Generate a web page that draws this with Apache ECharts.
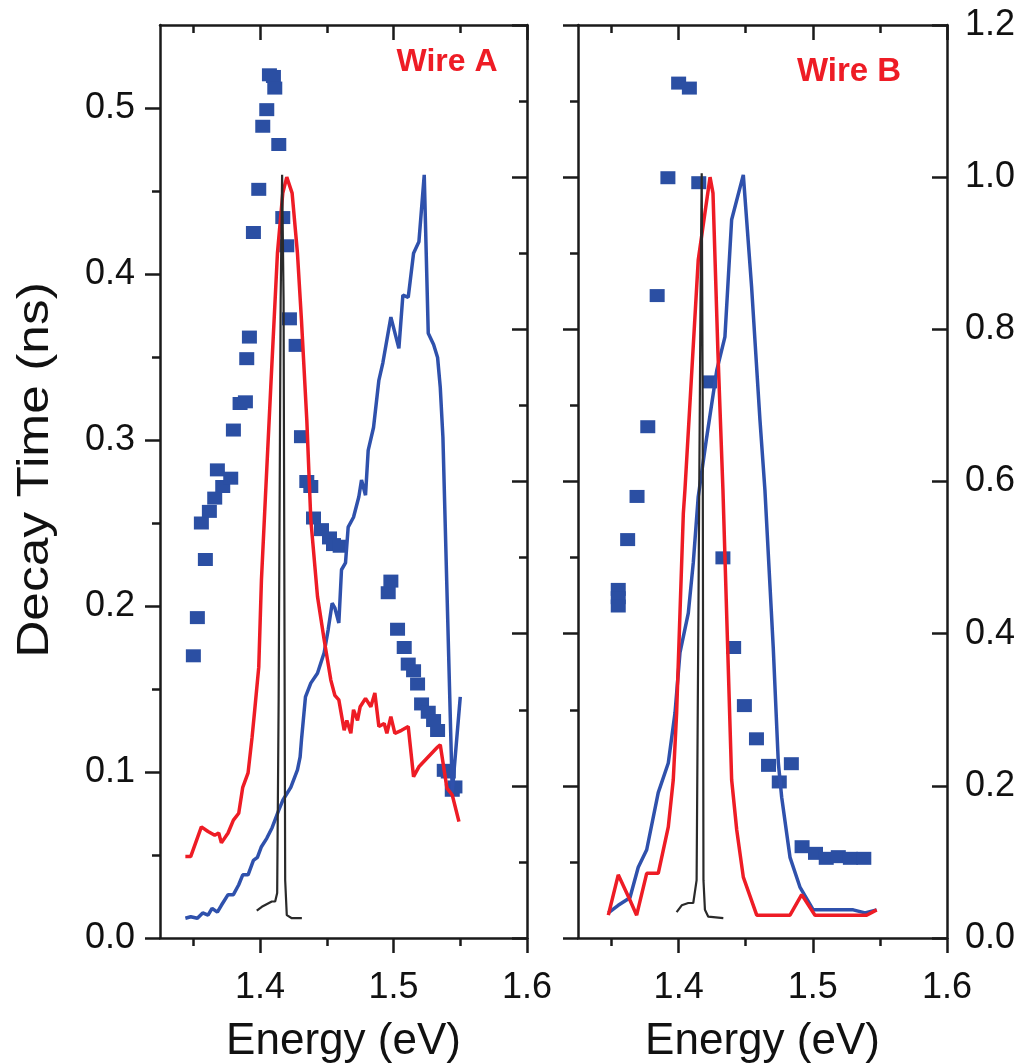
<!DOCTYPE html>
<html>
<head>
<meta charset="utf-8">
<script src="https://cdn.jsdelivr.net/npm/echarts@6/dist/echarts.min.js"></script>
<style>html,body{margin:0;padding:0;background:#fff;}#c{width:1019px;height:1063px;}</style>
</head>
<body>
<div id="c"></div>
<script>
// ---- axis ranges and ticks ----
const xRange = [1.325, 1.6];
const xMajorTicks = [1.4, 1.5, 1.6];
const xMinorTicks = [1.35, 1.45, 1.55];
const decayRange = [0, 0.55];
const decayTicks = [0, 0.1, 0.2, 0.3, 0.4, 0.5];
const decayMinorTicks = [0.05, 0.15, 0.25, 0.35, 0.45];
const intensityRange = [0, 1.2];
const intensityTicks = [0, 0.2, 0.4, 0.6, 0.8, 1.0, 1.2];
const intensityMinorTicks = [0.1, 0.3, 0.5, 0.7, 0.9, 1.1];

// ---- Wire A: decay times (ns) ----
const wireADecay = [
[1.350,0.170],[1.353,0.193],[1.356,0.250],[1.359,0.228],[1.362,0.257],[1.366,0.265],[1.368,0.282],
[1.372,0.272],[1.378,0.277],[1.380,0.306],[1.385,0.322],[1.389,0.323],[1.390,0.349],[1.392,0.362],
[1.395,0.425],[1.399,0.451],[1.402,0.489],[1.405,0.499],[1.407,0.520],[1.410,0.519],[1.411,0.512],
[1.414,0.478],[1.417,0.434],[1.420,0.417],[1.422,0.373],[1.427,0.357],[1.431,0.302],[1.435,0.275],
[1.438,0.272],[1.440,0.253],[1.446,0.246],[1.452,0.241],[1.455,0.237],[1.460,0.236],
[1.496,0.208],[1.498,0.215],[1.503,0.186],[1.508,0.175],[1.511,0.165],[1.515,0.161],[1.518,0.153],
[1.521,0.141],[1.526,0.136],[1.530,0.131],[1.533,0.125],[1.538,0.101],[1.541,0.100],[1.544,0.089],[1.546,0.091]
];
// ---- Wire A: normalized spectra ----
const wireARed = [
[1.344,0.107],[1.348,0.107],[1.356,0.146],[1.361,0.140],[1.366,0.135],[1.369,0.138],[1.371,0.125],
[1.376,0.138],[1.380,0.155],[1.384,0.164],[1.387,0.198],[1.391,0.217],[1.394,0.264],[1.396,0.300],
[1.399,0.356],[1.401,0.470],[1.404,0.580],[1.408,0.724],[1.413,0.900],[1.417,0.979],[1.420,1.000],
[1.424,0.979],[1.428,0.900],[1.431,0.812],[1.435,0.681],[1.438,0.550],[1.443,0.449],[1.448,0.392],
[1.453,0.339],[1.456,0.319],[1.459,0.313],[1.463,0.273],[1.465,0.286],[1.468,0.269],[1.470,0.300],
[1.473,0.286],[1.475,0.304],[1.479,0.315],[1.483,0.304],[1.486,0.322],[1.489,0.278],[1.493,0.282],
[1.495,0.269],[1.498,0.291],[1.501,0.269],[1.506,0.273],[1.511,0.278],[1.515,0.212],[1.519,0.225],
[1.533,0.251],[1.535,0.254],[1.540,0.197],[1.544,0.188],[1.549,0.153]
];
const wireABlue = [
[1.344,0.026],[1.348,0.028],[1.353,0.026],[1.357,0.033],[1.361,0.030],[1.364,0.039],[1.368,0.034],
[1.371,0.043],[1.376,0.057],[1.380,0.057],[1.384,0.070],[1.387,0.083],[1.391,0.083],[1.395,0.102],
[1.398,0.106],[1.401,0.120],[1.405,0.131],[1.409,0.145],[1.414,0.168],[1.417,0.181],[1.423,0.198],
[1.428,0.221],[1.430,0.238],[1.431,0.260],[1.434,0.317],[1.438,0.335],[1.443,0.348],[1.448,0.375],
[1.451,0.405],[1.454,0.440],[1.456,0.434],[1.459,0.414],[1.461,0.484],[1.464,0.493],[1.466,0.540],
[1.470,0.553],[1.474,0.580],[1.476,0.602],[1.479,0.582],[1.481,0.641],[1.485,0.671],[1.489,0.733],
[1.492,0.756],[1.498,0.816],[1.504,0.775],[1.507,0.845],[1.511,0.842],[1.515,0.900],[1.519,0.915],
[1.523,1.003],[1.526,0.795],[1.530,0.780],[1.533,0.763],[1.535,0.724],[1.537,0.658],[1.544,0.192],[1.550,0.317]
];
const wireABlack = [
[1.3975,0.036],[1.4013,0.041],[1.4088,0.048],[1.4113,0.048],[1.4128,0.059],[1.4139,0.313],[1.4154,0.838],
[1.4165,1.003],[1.4176,0.838],[1.4188,0.076],[1.4200,0.030],[1.4238,0.026],[1.4313,0.026]
];

// ---- Wire B: decay times (ns) ----
const wireBDecay = [
[1.355,0.210],[1.355,0.205],[1.355,0.200],[1.362,0.240],[1.369,0.266],[1.377,0.308],[1.384,0.387],
[1.392,0.458],[1.400,0.515],[1.408,0.512],[1.415,0.455],[1.423,0.335],[1.433,0.229],[1.441,0.175],
[1.449,0.140],[1.458,0.120],[1.467,0.104],[1.475,0.094],[1.484,0.105],[1.492,0.055],[1.502,0.051],
[1.510,0.048],[1.519,0.049],[1.528,0.048],[1.538,0.048]
];
// ---- Wire B: normalized spectra ----
const wireBRed = [
[1.3476,0.030],[1.3550,0.083],[1.3637,0.050],[1.3687,0.030],[1.3762,0.085],[1.3848,0.085],[1.3923,0.146],
[1.3960,0.208],[1.3985,0.296],[1.4010,0.427],[1.4035,0.558],[1.4047,0.589],[1.4146,0.891],[1.4234,1.000],
[1.4256,0.979],[1.4293,0.769],[1.4330,0.590],[1.4395,0.208],[1.4433,0.142],[1.4482,0.080],[1.4582,0.030],
[1.4830,0.030],[1.4917,0.057],[1.5016,0.030],[1.5401,0.030],[1.5476,0.037]
];
const wireBBlue = [
[1.3476,0.033],[1.3550,0.043],[1.3637,0.053],[1.3699,0.093],[1.3762,0.116],[1.3848,0.191],[1.3923,0.230],
[1.3973,0.296],[1.4010,0.375],[1.4072,0.427],[1.4109,0.493],[1.4146,0.580],[1.4209,0.658],[1.4284,0.746],
[1.4345,0.790],[1.4395,0.944],[1.4482,1.003],[1.4544,0.855],[1.4606,0.681],[1.4643,0.589],[1.4705,0.382],
[1.4743,0.230],[1.4768,0.185],[1.4830,0.106],[1.4904,0.067],[1.5003,0.037],[1.5301,0.037],[1.5389,0.033],[1.5476,0.037]
];
const wireBBlack = [
[1.3985,0.034],[1.4023,0.043],[1.4072,0.046],[1.4109,0.046],[1.4134,0.076],[1.4148,0.444],[1.4163,0.838],
[1.4172,1.005],[1.4179,0.707],[1.4185,0.076],[1.4196,0.037],[1.4221,0.028],[1.4333,0.026]
];

const panelLabels = ['Wire A', 'Wire B'];
const xTitle = 'Energy (eV)';
const yTitle = 'Decay Time (ns)';

// ---- styling ----
const FONT = 'Liberation Sans, Arial, Helvetica, sans-serif';
const AX = '#1a1a1a';
const RED = '#ee1c25';
const BLUE = '#2f51ac';
const SQ = '#2b4fa3';
const MAJ = 15, MIN = 8, LW = 2.5;

function fmt(v) { return Number(v).toFixed(1); }

function valAxis(o) {
  const a = {
    type: 'value', gridIndex: o.grid, position: o.pos, min: o.range[0], max: o.range[1],
    splitLine: { show: false },
    axisLine: { show: !!o.line, onZero: false, lineStyle: { color: AX, width: LW } },
    axisTick: { show: true, inside: !!o.inside, length: o.len, customValues: o.ticks,
                lineStyle: { color: AX, width: LW } },
    axisLabel: { show: !!o.labels, customValues: o.ticks, formatter: fmt, margin: o.margin || 10,
                 fontSize: 36, fontFamily: FONT, color: '#111' },
    z: 5
  };
  if (o.name) {
    a.name = o.name; a.nameLocation = 'middle'; a.nameGap = o.nameGap;
    a.nameTextStyle = { fontSize: 44, fontFamily: FONT, color: '#111' };
  }
  if (o.hidden) a.show = false;
  return a;
}

const xAxes = [];
const yAxes = [];
[0, 1].forEach(function (g) {
  xAxes.push(valAxis({ grid: g, pos: 'bottom', range: xRange, line: true, ticks: xMajorTicks, len: MAJ, labels: true, margin: 32, name: xTitle, nameGap: 82 }));
  xAxes.push(valAxis({ grid: g, pos: 'bottom', range: xRange, ticks: xMinorTicks, len: MIN }));
  xAxes.push(valAxis({ grid: g, pos: 'top', range: xRange, line: true, ticks: xMajorTicks, len: MAJ, inside: true }));
  xAxes.push(valAxis({ grid: g, pos: 'top', range: xRange, ticks: xMinorTicks, len: MIN, inside: true }));
});
// grid 0 y axes
yAxes.push(valAxis({ grid: 0, pos: 'left', range: decayRange, line: true, ticks: decayTicks, len: MAJ, labels: true, margin: 25 })); // 0
yAxes.push(valAxis({ grid: 0, pos: 'left', range: decayRange, ticks: decayMinorTicks, len: MIN })); // 1
yAxes.push(valAxis({ grid: 0, pos: 'right', range: intensityRange, line: true, ticks: intensityTicks, len: MAJ, inside: true })); // 2
yAxes.push(valAxis({ grid: 0, pos: 'right', range: intensityRange, ticks: intensityMinorTicks, len: MIN, inside: true })); // 3
// grid 1 y axes
yAxes.push(valAxis({ grid: 1, pos: 'left', range: intensityRange, line: true, ticks: intensityTicks, len: MAJ })); // 4
yAxes.push(valAxis({ grid: 1, pos: 'left', range: intensityRange, ticks: intensityMinorTicks, len: MIN })); // 5
yAxes.push(valAxis({ grid: 1, pos: 'right', range: intensityRange, line: true, ticks: intensityTicks, len: MAJ, inside: true, labels: true, margin: 18 })); // 6
yAxes.push(valAxis({ grid: 1, pos: 'right', range: decayRange, ticks: decayTicks, len: MAJ, hidden: true })); // 7

function scatter(data, xi, yi) {
  return { type: 'scatter', data: data, xAxisIndex: xi, yAxisIndex: yi, symbol: 'rect', symbolSize: [15, 13],
           itemStyle: { color: SQ, opacity: 1 }, z: 2, silent: true };
}
function line(data, xi, yi, color, w, z) {
  return { type: 'line', data: data, xAxisIndex: xi, yAxisIndex: yi, showSymbol: false, symbol: 'none',
           lineStyle: { color: color, width: w, opacity: 1 }, z: z, silent: true };
}

const option = {
  animation: false,
  backgroundColor: '#fff',
  grid: [
    { left: 160, top: 25, width: 367, height: 913, outerBoundsMode: 'none', containLabel: false },
    { left: 578, top: 25, width: 369, height: 913, outerBoundsMode: 'none', containLabel: false }
  ],
  xAxis: xAxes,
  yAxis: yAxes,
  series: [
    scatter(wireADecay, 0, 0),
    line(wireABlue, 0, 2, BLUE, 3.5, 3),
    line(wireARed, 0, 2, RED, 3.5, 4),
    line(wireABlack, 0, 2, '#2a2a2a', 2.2, 5),
    scatter(wireBDecay, 4, 7),
    line(wireBBlue, 4, 6, BLUE, 3.5, 3),
    line(wireBRed, 4, 6, RED, 3.5, 4),
    line(wireBBlack, 4, 6, '#2a2a2a', 2.2, 5)
  ],
  graphic: [
    { type: 'text', x: 36, y: 470, rotation: Math.PI / 2, scaleX: 1.17,
      style: { text: yTitle, fontSize: 44, fontFamily: FONT, fill: '#111', align: 'center', verticalAlign: 'middle' } },
    { type: 'text', x: 447, y: 62,
      style: { text: panelLabels[0], fontSize: 32, fontWeight: 'bold', fontFamily: FONT, fill: RED, align: 'center', verticalAlign: 'middle' } },
    { type: 'text', x: 849, y: 72,
      style: { text: panelLabels[1], fontSize: 33, fontWeight: 'bold', fontFamily: FONT, fill: RED, align: 'center', verticalAlign: 'middle' } }
  ]
};

const chart = echarts.init(document.getElementById('c'), null, { renderer: 'canvas' });
chart.setOption(option);
</script>
</body>
</html>
